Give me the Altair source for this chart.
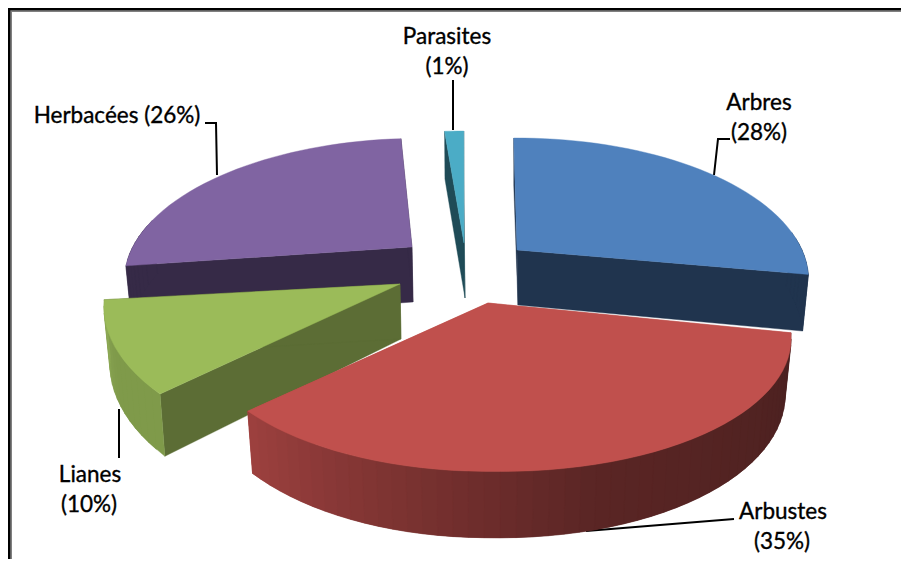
import math
import altair as alt
import pandas as pd

# Values
names = ["Arbres", "Arbustes", "Lianes", "Herbacées", "Parasites"]
shares = [28, 35, 10, 26, 1]

# Look of the pie
top_colors = ["#4F81BD", "#C0504D", "#9BBB59", "#8064A2", "#4BACC6"]
face_colors = ["#20344E", "#C0504D", "#5C6D35", "#362A47", "#1F4B57"]
rim_left = ["#20344E", "#9C403E", "#8DA855", "#362A47", "#1F4B57"]
rim_mid = ["#20344E", "#5A2524", "#7F9A4A", "#362A47", "#1F4B57"]
rim_right = ["#20344E", "#4A2120", "#7F9A4A", "#362A47", "#1F4B57"]
apex_x = [517, 488, 400, 412, 464]
apex_y = [250, 303, 284, 247, 243]
scale_x = [1.0, 1.0, 1.02, 0.98, 1.3]
scale_y = [1.0, 0.98, 1.03, 0.97, 1.0]
skew_x = [0.0, 0.0, -0.046, 0.06, 0.036]
skew_y = [0.0, 0.0, 0.015, 0.0, 0.0]
right_stretch = [1.0, 1.04, 1.0, 1.0, 1.0]
right_lift = [0.0, 0.02, 0.0, 0.0, 0.0]
draw_order = ["Parasites", "Herbacées", "Lianes", "Arbustes", "Arbres"]
RX, RY, TILT, DEPTH, FLOOR = 285.0, 135.6, 0.211, 55.0, 0.98
START_DEG = -0.8

# Labels and leader lines
label_text = ["Parasites", "(1%)", "Arbres", "(28%)", "Herbacées (26%)",
              "Lianes", "(10%)", "Arbustes", "(35%)"]
label_x = [447, 447, 759, 759, 117, 90, 89, 783, 782]
label_y = [37, 67, 103, 133, 116, 475, 505, 512, 542]
leaders = [
    ([205, 216, 217], [123, 123, 175]),
    ([453, 453], [80, 130]),
    ([730, 718, 714], [139, 139, 175]),
    ([119, 119], [409, 458]),
    ([586, 734], [531, 519]),
]


def hex_rgb(h):
    return tuple(int(h[i:i + 2], 16) for i in (1, 3, 5))


def mix(a, b, t):
    ca, cb = hex_rgb(a), hex_rgb(b)
    return "#%02x%02x%02x" % tuple(round(p + (q - p) * t) for p, q in zip(ca, cb))


def project(deg, k):
    u, v = math.sin(math.radians(deg)), math.cos(math.radians(deg))
    w = 1 + TILT * v
    x, y = RX * u / w, -RY * v / w
    x2 = x * scale_x[k] - skew_x[k] * y
    y2 = y * scale_y[k] + skew_y[k] * x
    if x > 0:
        y2 += right_lift[k] * x
        x2 *= right_stretch[k]
    return x2, y2, w


rows = []
pid = 0


def add_poly(pts, color):
    global pid
    for i, (x, y) in enumerate(pts):
        rows.append({"poly": pid, "i": i, "x": x, "y": y, "color": color})
    pid += 1


spans = {}
acc = START_DEG
for n, s in zip(names, shares):
    spans[n] = (acc, acc + s * 3.6)
    acc += s * 3.6

for n in draw_order:
    k = names.index(n)
    a0, a1 = spans[n]
    cx, cy = apex_x[k], apex_y[k]
    steps = max(3, int((a1 - a0) / 2.5))
    angs = [a0 + (a1 - a0) * j / steps for j in range(steps + 1)]

    def top(a):
        x, y, _ = project(a, k)
        return cx + x, cy + y

    def bottom(a):
        x, y, w = project(a, k)
        return cx + x * FLOOR, cy + y * FLOOR + DEPTH / w

    ab = (cx + 1, cy + DEPTH)
    add_poly([top(a0), (cx, cy), ab, bottom(a0)], face_colors[k])
    add_poly([top(a1), (cx, cy), ab, bottom(a1)], face_colors[k])
    for j in range(steps):
        t = j / max(1, steps - 1)
        if math.cos(math.radians(angs[j])) > 0.15:
            continue
        c = mix(rim_right[k], rim_mid[k], t * 2) if t < .5 else mix(rim_mid[k], rim_left[k], t * 2 - 1)
        # each strip runs under the next one, so no seam can show
        end = angs[min(j + 2, steps)]
        add_poly([top(angs[j]), top(end), bottom(end), bottom(angs[j])], c)
    add_poly([(cx, cy)] + [top(a) for a in angs], top_colors[k])

poly_df = pd.DataFrame(rows)

W, H = 893, 551
x_scale = alt.Scale(domain=[8, 8 + W], range=[0, W], nice=False, zero=False)
y_scale = alt.Scale(domain=[8, 8 + H], range=[0, H], nice=False, zero=False)
X = lambda f: alt.X(f, type="quantitative", scale=x_scale, axis=None)
Y = lambda f: alt.Y(f, type="quantitative", scale=y_scale, axis=None)

pie = alt.Chart(poly_df).mark_line(strokeWidth=0.4, interpolate="linear-closed", clip=True).encode(
    x=X("x"), y=Y("y"),
    order=alt.Order("i:Q"),
    detail="poly:N",
    fill=alt.Fill("color:N", scale=None),
    stroke=alt.Stroke("color:N", scale=None),
)

lead_rows = []
for n, (xs, ys) in enumerate(leaders):
    for i, (x, y) in enumerate(zip(xs, ys)):
        lead_rows.append({"lead": n, "i": i, "x": x, "y": y})
lines = alt.Chart(pd.DataFrame(lead_rows)).mark_line(color="black", strokeWidth=2).encode(
    x=X("x"), y=Y("y"), order=alt.Order("i:Q"), detail="lead:N"
)

labels = alt.Chart(pd.DataFrame({"t": label_text, "x": label_x, "y": label_y})).mark_text(
    font="Lato", fontSize=22.5, color="black", align="center", baseline="middle",
    stroke="black", strokeWidth=0.35,
).encode(x=X("x"), y=Y("y"), text="t:N")

frame_x = [9, 9, 901]
frame_y = [559, 9, 9]
frame_x2 = [11, 11, 901]
frame_y2 = [559, 11, 11]
frame_black = alt.Chart(pd.DataFrame({"x": frame_x, "y": frame_y, "i": [0, 1, 2]})).mark_line(
    color="black", strokeWidth=2.5, clip=True).encode(x=X("x"), y=Y("y"), order=alt.Order("i:Q"))
frame_grey = alt.Chart(pd.DataFrame({"x": frame_x2, "y": frame_y2, "i": [0, 1, 2]})).mark_line(
    color="#808080", strokeWidth=2, clip=True).encode(x=X("x"), y=Y("y"), order=alt.Order("i:Q"))

chart = (frame_grey + frame_black + lines + pie + labels).properties(
    width=W, height=H, padding=0, autosize=alt.AutoSizeParams(type="none")
).configure_view(stroke=None)

chart.save("out.html", embed_options={"renderer": "svg", "actions": False})
